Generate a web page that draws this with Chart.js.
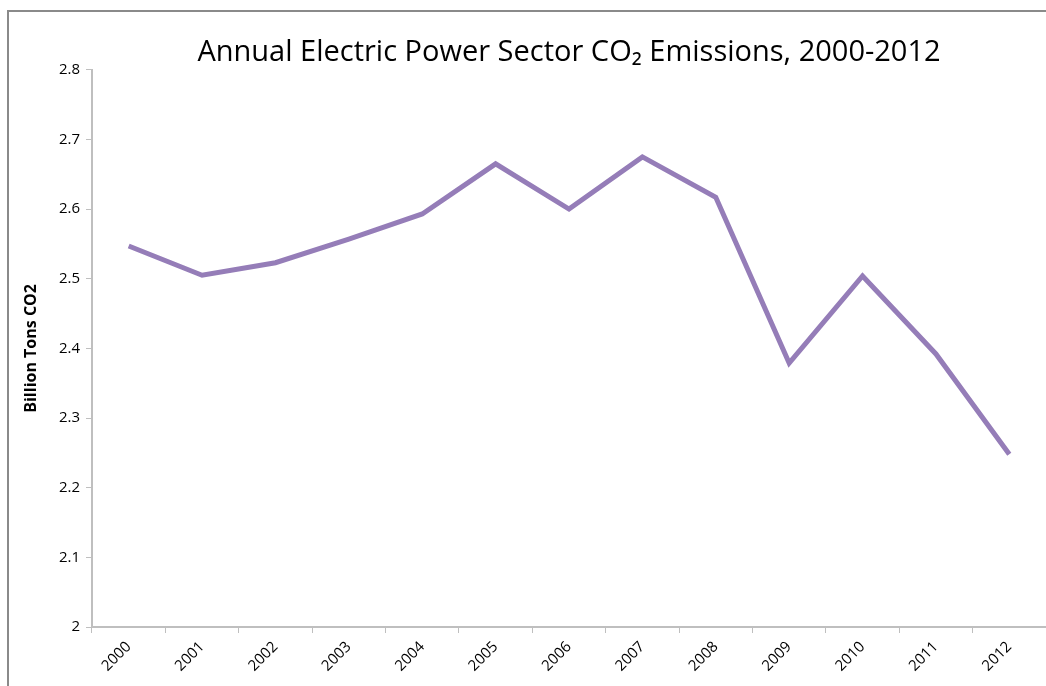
<!DOCTYPE html>
<html>
<head>
<meta charset="utf-8">
<script src="https://cdn.jsdelivr.net/npm/chart.js@4"></script>
<style>
  html, body { margin: 0; padding: 0; background: #fff; }
  #wrap { position: relative; width: 1046px; height: 686px; }
  #frame { position: absolute; left: 7px; top: 10px; right: 0; bottom: 0;
           border-left: 2px solid #8a8a8a; border-top: 2px solid #8a8a8a; pointer-events: none; }
  canvas { position: absolute; left: 0; top: 0; }
</style>
</head>
<body>
<div id="wrap">
  <canvas id="co2Chart" width="1046" height="686"></canvas>
  <div id="frame"></div>
</div>
<script>
// années et émissions (milliards de tonnes de CO2)
const years = ['2000', '2001', '2002', '2003', '2004', '2005', '2006',
               '2007', '2008', '2009', '2010', '2011', '2012'];
const emissions = [2.547, 2.505, 2.523, 2.557, 2.593, 2.665, 2.600,
                   2.675, 2.617, 2.379, 2.504, 2.392, 2.248];
const yMin = 2;
const yMax = 2.8;

const axisColor = '#bfbfbf';
const fontFamily = '"Open Sans", "DejaVu Sans", sans-serif';

const ctx = document.getElementById('co2Chart').getContext('2d');
const co2Chart = new Chart(ctx, {
    type: 'line',
    data: {
        labels: years,
        datasets: [{
            label: 'Billion Tons CO2',
            data: emissions,
            borderColor: '#957db8',
            borderWidth: 5,
            pointRadius: 0,
            tension: 0,
            fill: false,
        }]
    },
    options: {
        responsive: false,
        animation: false,
        layout: { padding: { left: 0, right: 0, top: 0, bottom: 0 } },
        plugins: {
            legend: { display: false },
            tooltip: { enabled: false },
            title: {
                display: true,
                fullSize: false, // centré sur la zone du graphique
                text: 'Annual Electric Power Sector CO\u2082 Emissions, 2000-2012',
                color: '#000',
                font: { family: fontFamily, size: 29, weight: 'normal' },
                padding: { top: 35, bottom: 0 }
            }
        },
        scales: {
            x: {
                offset: true,
                grid: { offset: true, drawOnChartArea: false, tickLength: 6, color: axisColor },
                border: { color: axisColor, width: 2 },
                ticks: {
                    color: '#000',
                    font: { family: fontFamily, size: 15 },
                    minRotation: 45,
                    maxRotation: 45,
                    padding: 5
                },
                afterFit: s => { s.height = 59; }
            },
            y: {
                min: yMin,
                max: yMax,
                grid: { drawOnChartArea: false, tickLength: 6, color: axisColor },
                border: { color: axisColor, width: 2 },
                ticks: {
                    stepSize: 0.1,
                    color: '#000',
                    font: { family: fontFamily, size: 15 },
                    padding: 6,
                    callback: v => String(+v.toFixed(1))
                },
                title: {
                    display: true,
                    text: 'Billion Tons CO2',
                    color: '#000',
                    font: { family: fontFamily, size: 16, weight: 'bold' },
                    padding: { top: 22, bottom: 0 }
                },
                afterFit: s => { s.width = 92; }
            }
        }
    }
});
</script>
</body>
</html>
